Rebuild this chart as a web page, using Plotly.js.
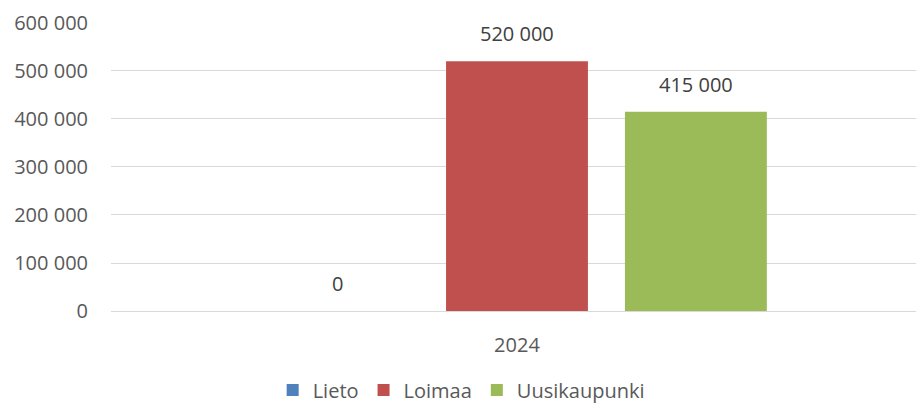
<!DOCTYPE html>
<html>
<head>
<meta charset="utf-8">
<script src="https://cdn.plot.ly/plotly-3.0.1.min.js"></script>
<style>html,body{margin:0;padding:0;background:#fff;}#chart{width:916px;height:405px;}</style>
</head>
<body>
<div id="chart"></div>
<script>
const categories = ["2024"];
const seriesNames = ["Lieto", "Loimaa", "Uusikaupunki"];
const seriesValues = [[0], [520000], [415000]];
const seriesColors = ["#4F81BD", "#C0504D", "#9BBB59"];
const yTicks = [0, 100000, 200000, 300000, 400000, 500000, 600000];

const fontFam = "Open Sans, Noto Sans, sans-serif";
function fmt(v) { return String(v).replace(/\B(?=(\d{3})+(?!\d))/g, " "); }

const traces = seriesNames.map((n, i) => ({
  type: "bar",
  name: n,
  x: categories,
  y: seriesValues[i],
  marker: {color: seriesColors[i]},
  hoverinfo: "none"
}));

const slotPx = 179;
const annotations = [];
for (let i = 0; i < seriesNames.length; i++) {
  for (let j = 0; j < categories.length; j++) {
    const v = seriesValues[i][j];
    annotations.push({
      x: j, y: v, xref: "x", yref: "y",
      text: fmt(v),
      showarrow: false, yanchor: "bottom", xanchor: "center",
      xshift: (i - 1) * slotPx, yshift: 12,
      font: {family: fontFam, size: 20, color: "#404040"}
    });
  }
}

const layout = {
  width: 916, height: 405,
  margin: {l: 111, r: 0, t: 22, b: 0, autoexpand: false},
  paper_bgcolor: "#fff", plot_bgcolor: "#fff",
  separators: ", ",
  barmode: "group",
  bargap: 0.339,
  bargroupgap: 0.207,
  showlegend: true,
  legend: {
    orientation: "h", x: 0.435, xanchor: "center", y: -0.012, yanchor: "bottom",
    font: {family: fontFam, size: 20, color: "#595959"},
    itemwidth: 30, traceorder: "normal"
  },
  xaxis: {
    type: "category",
    range: [-0.5, 0.4914],
    showgrid: false, zeroline: false, showline: false,
    ticks: "outside", ticklen: 16, tickcolor: "rgba(0,0,0,0)",
    tickfont: {family: fontFam, size: 20, color: "#595959"},
    automargin: false,
    fixedrange: true
  },
  yaxis: {
    domain: [0.2454, 1],
    range: [0, 602000],
    tickvals: yTicks,
    tickformat: ",d",
    showgrid: true, gridcolor: "#D9D9D9", gridwidth: 1.3,
    zeroline: true, zerolinecolor: "#D9D9D9", zerolinewidth: 1.3,
    showline: false,
    ticks: "outside", ticklen: 18, tickcolor: "rgba(0,0,0,0)",
    tickfont: {family: fontFam, size: 20, color: "#595959"},
    automargin: false,
    fixedrange: true
  },
  annotations: annotations
};

Plotly.newPlot("chart", traces, layout, {displayModeBar: false});
</script>
</body>
</html>
